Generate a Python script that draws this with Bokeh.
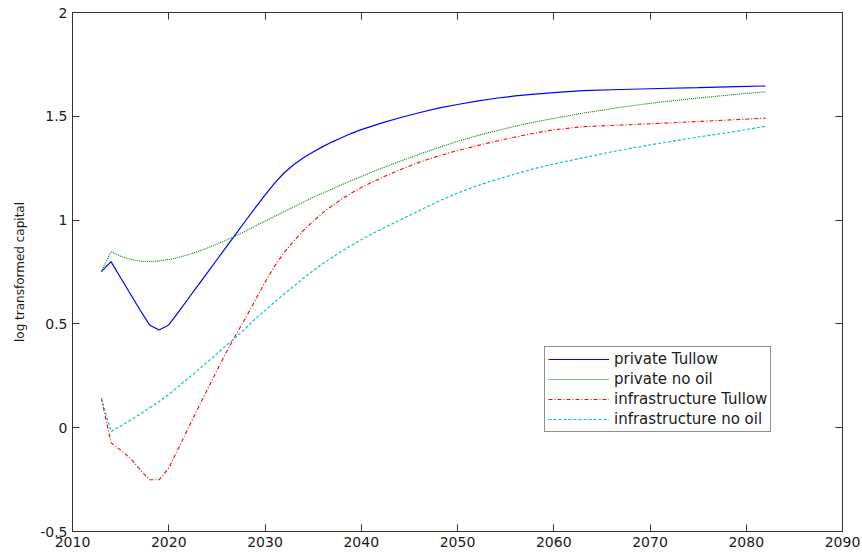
from bokeh.plotting import figure
from bokeh.models import Range1d, FixedTicker, LinearAxis, Legend, LegendItem
from bokeh.embed import file_html
from bokeh.resources import INLINE

# ---- data ----
years = [2013, 2014, 2015, 2016, 2017, 2018, 2019, 2020, 2021, 2022,
         2023, 2024, 2025, 2026, 2027, 2028, 2029, 2030, 2031, 2032,
         2033, 2034, 2035, 2036, 2037, 2038, 2039, 2040,
         2042, 2044, 2046, 2048, 2050, 2052, 2054, 2056, 2058, 2060,
         2063, 2067, 2071, 2075, 2079, 2082]

private_tullow = [0.752, 0.800, 0.722, 0.645, 0.568, 0.495, 0.471, 0.495, 0.557, 0.620,
                  0.683, 0.746, 0.809, 0.872, 0.935, 0.998, 1.060, 1.120, 1.178, 1.228,
                  1.268, 1.300, 1.328, 1.354, 1.377, 1.398, 1.418, 1.436,
                  1.466, 1.493, 1.517, 1.539, 1.557, 1.573, 1.587, 1.598, 1.607, 1.614,
                  1.624, 1.629, 1.634, 1.638, 1.643, 1.646]

private_no_oil = [0.752, 0.848, 0.826, 0.811, 0.803, 0.800, 0.803, 0.810, 0.820, 0.833,
                  0.848, 0.865, 0.884, 0.904, 0.925, 0.948, 0.972, 0.995, 1.018, 1.041,
                  1.064, 1.087, 1.109, 1.130, 1.151, 1.171, 1.191, 1.210,
                  1.248, 1.283, 1.317, 1.349, 1.379, 1.406, 1.430, 1.452, 1.472, 1.490,
                  1.515, 1.544, 1.568, 1.588, 1.606, 1.618]

infra_tullow = [0.142, -0.072, -0.108, -0.147, -0.200, -0.251, -0.251, -0.195, -0.100, -0.005,
                0.090, 0.183, 0.275, 0.365, 0.450, 0.530, 0.615, 0.700, 0.778, 0.845,
                0.900, 0.950, 0.995, 1.035, 1.070, 1.102, 1.131, 1.157,
                1.202, 1.242, 1.278, 1.309, 1.335, 1.358, 1.380, 1.400, 1.419, 1.435,
                1.450, 1.458, 1.466, 1.475, 1.484, 1.491]

infra_no_oil = [0.142, -0.019, 0.008, 0.036, 0.065, 0.095, 0.126, 0.160, 0.198, 0.237,
                0.276, 0.316, 0.356, 0.397, 0.438, 0.479, 0.525, 0.565, 0.605, 0.644,
                0.682, 0.720, 0.756, 0.790, 0.821, 0.851, 0.879, 0.906,
                0.955, 1.000, 1.045, 1.090, 1.130, 1.165, 1.195, 1.222, 1.248, 1.270,
                1.300, 1.338, 1.370, 1.400, 1.428, 1.452]

series_names = ["private Tullow", "private no oil", "infrastructure Tullow", "infrastructure no oil"]

x_ticks = [2010, 2020, 2030, 2040, 2050, 2060, 2070, 2080, 2090]
y_ticks = [-0.5, 0, 0.5, 1, 1.5, 2]
y_tick_labels = ["-0.5", "0", "0.5", "1", "1.5", "2"]

FONT = "DejaVu Sans"
AXC = "#333333"
TXT = "#1a1a1a"

p = figure(width=862, height=552, output_backend="svg", toolbar_location=None,
           x_range=Range1d(2010, 2090), y_range=Range1d(-0.5, 2),
           min_border_left=72, min_border_right=20, min_border_top=12, min_border_bottom=21)
p.xgrid.visible = False
p.ygrid.visible = False
p.outline_line_color = AXC
p.background_fill_color = "white"
p.border_fill_color = "white"

def style_axis(ax, ticks, show_labels=True):
    ax.ticker = FixedTicker(ticks=ticks)
    ax.minor_tick_line_color = None
    ax.major_tick_in = 7
    ax.major_tick_out = 0
    ax.axis_line_color = AXC
    ax.major_tick_line_color = AXC
    ax.major_label_text_font = FONT
    if show_labels:
        ax.major_label_text_font_size = "14px"
        ax.major_label_text_color = TXT
    else:
        ax.major_label_text_font_size = "0px"
        ax.major_label_text_color = None
        ax.major_label_standoff = 0

style_axis(p.xaxis[0], x_ticks)
p.xaxis[0].major_label_standoff = 5
style_axis(p.yaxis[0], y_ticks)
p.yaxis[0].major_label_standoff = 5
p.yaxis[0].major_label_overrides = {(int(t) if float(t).is_integer() else t): lab
                                    for t, lab in zip(y_ticks, y_tick_labels)}
p.yaxis[0].axis_label = "log transformed capital"
p.yaxis[0].axis_label_text_font = FONT
p.yaxis[0].axis_label_text_font_size = "12px"
p.yaxis[0].axis_label_text_font_style = "normal"
p.yaxis[0].axis_label_text_color = TXT
p.yaxis[0].axis_label_standoff = 10

top_ax = LinearAxis()
style_axis(top_ax, x_ticks, show_labels=False)
p.add_layout(top_ax, "above")
right_ax = LinearAxis()
style_axis(right_ax, y_ticks, show_labels=False)
p.add_layout(right_ax, "right")

r1 = p.line(years, private_tullow, line_color="#0000ff", line_width=1.2)
r2 = p.line(years, private_no_oil, line_color="#008000", line_width=1.1, line_dash="1 1")
r3 = p.line(years, infra_tullow, line_color="#ff0000", line_width=1.1, line_dash="4 2 1 2")
r4 = p.line(years, infra_no_oil, line_color="#00bfbf", line_width=1.1, line_dash="3 2")

legend = Legend(items=[LegendItem(label=n, renderers=[r]) for n, r in zip(series_names, [r1, r2, r3, r4])],
                location=(472, 99), margin=0, padding=3, spacing=2,
                glyph_width=61, glyph_height=18, label_height=18, label_standoff=5,
                label_text_font=FONT, label_text_font_size="15px", label_text_color=TXT,
                border_line_color="#222222", border_line_width=1,
                background_fill_color="white", background_fill_alpha=1.0)
p.add_layout(legend, "center")

open("out.html", "w").write(file_html(p, INLINE))
